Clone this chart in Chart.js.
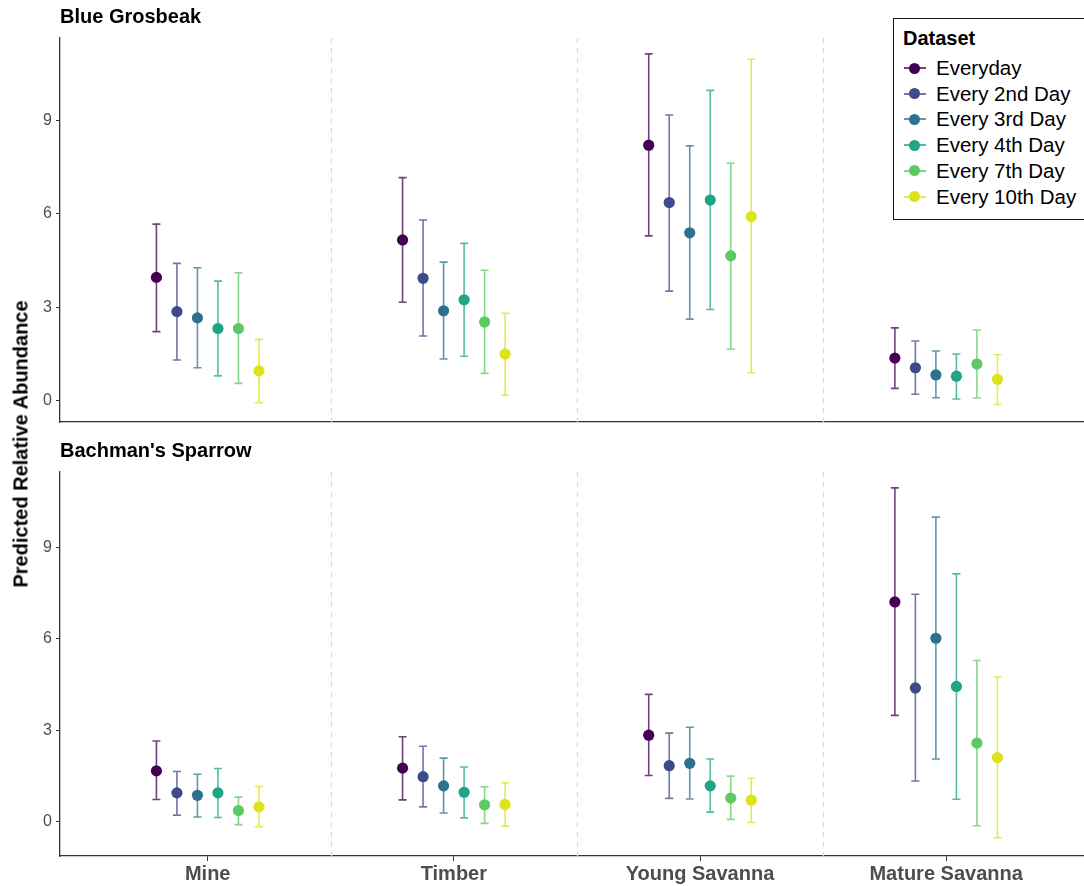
<!DOCTYPE html>
<html>
<head>
    <title>Predicted Relative Abundance</title>
    <script src="https://cdn.jsdelivr.net/npm/chart.js"></script>
    <style>
        body { margin: 0; background: #fff; font-family: 'Liberation Sans', Arial, sans-serif; }
        #wrap { position: relative; width: 1084px; height: 886px; overflow: hidden; background: #fff; }
        canvas { position: absolute; left: 0; }
        #ytitle {
            position: absolute; left: 21px; top: 444px;
            transform: translate(-50%, -50%) rotate(-90deg);
            white-space: nowrap; font-weight: bold; font-size: 20px; color: #000;
        }
        #legend {
            position: absolute; left: 893px; top: 18px; width: 200px; height: 202px;
            box-sizing: border-box; border: 1.5px solid #1a1a1a; background: #fff;
        }
        #legend .ttl { position: absolute; left: 9px; top: 7px; font-weight: bold; font-size: 20px; line-height: 24px; }
        #legend .row { position: absolute; left: 0; height: 26px; line-height: 26px; font-size: 20.5px; white-space: nowrap; }
        #legend .ln { position: absolute; left: 10px; top: 12px; width: 22px; height: 2px; }
        #legend .dot { position: absolute; left: 15px; top: 7.5px; width: 11px; height: 11px; border-radius: 50%; }
        #legend .txt { position: absolute; left: 42px; top: 0; }
    </style>
</head>
<body>
<div id="wrap">
    <canvas id="topPanel" width="1084" height="440" style="top:0"></canvas>
    <canvas id="bottomPanel" width="1084" height="456" style="top:430px"></canvas>
    <div id="ytitle">Predicted Relative Abundance</div>
    <div id="legend"><div class="ttl">Dataset</div></div>
</div>
<script>
    // カテゴリと系列
    const categories = ["Mine", "Timber", "Young Savanna", "Mature Savanna"];
    const datasetNames = ["Everyday", "Every 2nd Day", "Every 3rd Day", "Every 4th Day", "Every 7th Day", "Every 10th Day"];
    const colors = ["#440154", "#3f4a8a", "#2c728e", "#21a385", "#5ec962", "#dce319"];
    const yTicks = [0, 3, 6, 9];

    // Blue Grosbeak (行 = 系列, 列 = カテゴリ)
    const grosbeakEst = [
        [3.96, 5.16, 8.20, 1.37],
        [2.86, 3.93, 6.36, 1.06],
        [2.66, 2.89, 5.39, 0.83],
        [2.32, 3.24, 6.44, 0.79],
        [2.32, 2.53, 4.65, 1.18],
        [0.96, 1.50, 5.91, 0.69],
    ];
    const grosbeakLow = [
        [2.22, 3.16, 5.29, 0.40],
        [1.31, 2.08, 3.52, 0.21],
        [1.06, 1.34, 2.62, 0.10],
        [0.80, 1.43, 2.93, 0.06],
        [0.56, 0.88, 1.66, 0.09],
        [-0.06, 0.18, 0.90, -0.12],
    ];
    const grosbeakHigh = [
        [5.67, 7.16, 11.13, 2.34],
        [4.41, 5.80, 9.17, 1.92],
        [4.27, 4.45, 8.18, 1.60],
        [3.84, 5.05, 9.96, 1.50],
        [4.11, 4.19, 7.62, 2.27],
        [1.97, 2.81, 10.96, 1.48],
    ];

    // Bachman's Sparrow
    const sparrowEst = [
        [1.67, 1.76, 2.84, 7.21],
        [0.95, 1.48, 1.84, 4.39],
        [0.87, 1.18, 1.92, 6.02],
        [0.95, 0.97, 1.18, 4.44],
        [0.37, 0.56, 0.78, 2.58],
        [0.49, 0.57, 0.71, 2.11],
    ];
    const sparrowLow = [
        [0.73, 0.72, 1.52, 3.49],
        [0.22, 0.49, 0.77, 1.34],
        [0.16, 0.29, 0.75, 2.06],
        [0.14, 0.13, 0.32, 0.74],
        [-0.09, -0.05, 0.08, -0.13],
        [-0.16, -0.14, -0.02, -0.52],
    ];
    const sparrowHigh = [
        [2.65, 2.79, 4.18, 10.95],
        [1.65, 2.48, 2.91, 7.46],
        [1.56, 2.09, 3.10, 9.99],
        [1.75, 1.80, 2.06, 8.13],
        [0.81, 1.15, 1.50, 5.29],
        [1.16, 1.28, 1.43, 4.75],
    ];

    const dodge = 0.5; // position_dodge の幅

    Chart.defaults.font.family = "'Liberation Sans', Arial, sans-serif";

    function rgba(hex, a) {
        const n = parseInt(hex.slice(1), 16);
        return `rgba(${(n >> 16) & 255}, ${(n >> 8) & 255}, ${n & 255}, ${a})`;
    }

    // 区切りの破線とエラーバー
    const panelPlugin = {
        id: "panelBits",
        beforeDatasetsDraw(chart) {
            const { ctx, chartArea, scales } = chart;
            const x = scales.x, y = scales.y;
            ctx.save();
            ctx.strokeStyle = "#d9d9d9";
            ctx.lineWidth = 1.3;
            ctx.setLineDash([5, 5]);
            for (let i = 0; i < categories.length - 1; i++) {
                const px = Math.round(x.getPixelForValue(i + 0.5)) + 0.5;
                ctx.beginPath();
                ctx.moveTo(px, chartArea.top);
                ctx.lineTo(px, chartArea.bottom);
                ctx.stroke();
            }
            ctx.setLineDash([]);
            chart.data.datasets.forEach((ds, s) => {
                ctx.strokeStyle = rgba(colors[s], 0.75);
                ctx.lineWidth = 1.6;
                ds.data.forEach((pt) => {
                    const px = x.getPixelForValue(pt.x);
                    const lo = y.getPixelForValue(pt.lo);
                    const hi = y.getPixelForValue(pt.hi);
                    ctx.beginPath();
                    ctx.moveTo(px, lo); ctx.lineTo(px, hi);
                    ctx.moveTo(px - 4, lo); ctx.lineTo(px + 4, lo);
                    ctx.moveTo(px - 4, hi); ctx.lineTo(px + 4, hi);
                    ctx.stroke();
                });
            });
            ctx.restore();
        },
    };

    function makePanel(id, title, est, low, high, yMin, yMax, bottomAxis) {
        return new Chart(document.getElementById(id), {
            type: "scatter",
            data: {
                datasets: datasetNames.map((name, s) => ({
                    label: name,
                    data: categories.map((c, i) => ({
                        x: i + (s - 2.5) * dodge / datasetNames.length,
                        y: est[s][i],
                        lo: low[s][i],
                        hi: high[s][i],
                    })),
                    backgroundColor: colors[s],
                    borderWidth: 0,
                    pointRadius: 5.6,
                })),
            },
            options: {
                responsive: false,
                animation: false,
                devicePixelRatio: 1,
                layout: { padding: 0, autoPadding: false },
                plugins: {
                    legend: { display: false },
                    tooltip: { enabled: false },
                    title: {
                        display: true,
                        text: title,
                        align: "start",
                        fullSize: false,
                        color: "#000",
                        font: { size: 20, weight: "bold" },
                        padding: bottomAxis ? { top: 9, bottom: 9 } : { top: 5, bottom: 9 },
                    },
                },
                scales: {
                    x: {
                        type: "linear",
                        min: -0.6,
                        max: 3.56,
                        afterBuildTicks: (sc) => { sc.ticks = categories.map((c, i) => ({ value: i })); },
                        afterFit: (sc) => { sc.height = bottomAxis ? 30 : 18; },
                        border: { display: true, color: "#333", width: 1.3 },
                        grid: { display: true, drawOnChartArea: false, drawTicks: bottomAxis, tickLength: 5, color: "#333" },
                        ticks: {
                            display: bottomAxis,
                            color: "#4d4d4d",
                            font: { size: 20, weight: "bold" },
                            padding: 1,
                            callback: (v) => categories[v],
                        },
                    },
                    y: {
                        min: yMin,
                        max: yMax,
                        afterBuildTicks: (sc) => { sc.ticks = yTicks.map((v) => ({ value: v })); },
                        afterFit: (sc) => { sc.width = 60; },
                        border: { display: true, color: "#333", width: 1.3 },
                        grid: { drawOnChartArea: false, tickLength: 4, color: "#333" },
                        ticks: { color: "#4d4d4d", font: { size: 16 }, padding: 4 },
                    },
                },
            },
            plugins: [panelPlugin],
        });
    }

    makePanel("topPanel", "Blue Grosbeak", grosbeakEst, grosbeakLow, grosbeakHigh, -0.68, 11.64, false);
    makePanel("bottomPanel", "Bachman's Sparrow", sparrowEst, sparrowLow, sparrowHigh, -1.12, 11.47, true);

    // 凡例
    const legend = document.getElementById("legend");
    datasetNames.forEach((name, s) => {
        const row = document.createElement("div");
        row.className = "row";
        row.style.top = (36 + s * 25.7) + "px";
        row.innerHTML =
            `<span class="ln" style="background:${rgba(colors[s], 0.75)}"></span>` +
            `<span class="dot" style="background:${colors[s]}"></span>` +
            `<span class="txt">${name}</span>`;
        legend.appendChild(row);
    });
</script>
</body>
</html>
